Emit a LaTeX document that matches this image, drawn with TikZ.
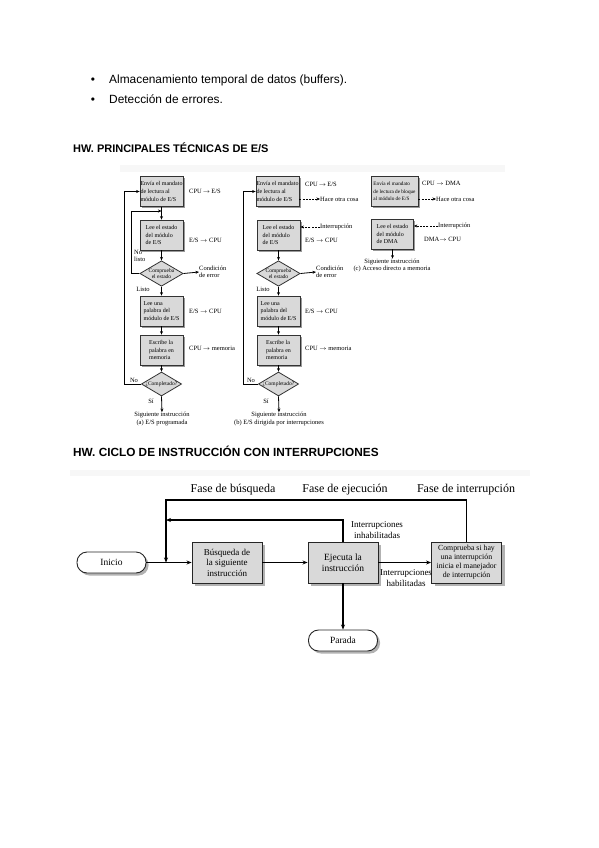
\documentclass[tikz,border=0pt]{standalone}
\usepackage{fontspec}
\setmainfont{Liberation Serif}
\newfontfamily\bodyfont{Liberation Sans}
\usetikzlibrary{arrows.meta,shapes.geometric,shadows}
\begin{document}
\begin{tikzpicture}[x=1pt,y=-1pt,
 every node/.style={inner sep=0pt},
 sbox/.style={draw=black!80, fill=black!15, line width=0.8pt, minimum width=43pt, minimum height=30pt, align=left, font=\fontsize{6}{7.8}\selectfont, drop shadow={shadow xshift=1.5pt, shadow yshift=-1.5pt, fill=black!40, opacity=1}},
 sdia/.style={diamond, draw=black!80, fill=black!15, line width=0.8pt, minimum width=40pt, minimum height=24pt, aspect=1.7, align=center, font=\fontsize{5.5}{6.5}\selectfont},
 slab/.style={font=\fontsize{6.5}{7.5}\selectfont, align=left},
 sline/.style={line width=0.8pt, -{Stealth[length=3.5pt,width=3pt]}},
 sdash/.style={sline, dash pattern=on 2pt off 1.2pt},
 bbox/.style={draw=black!85, fill=black!15, line width=0.9pt, minimum width=70pt, minimum height=41pt, align=center, font=\fontsize{9}{10.5}\selectfont, drop shadow={shadow xshift=3pt, shadow yshift=-3pt, fill=black!30, opacity=1}},
 bterm/.style={draw=black!85, fill=white, line width=0.9pt, rounded corners=10pt, minimum width=69pt, minimum height=21pt, font=\fontsize{9.5}{11}\selectfont, drop shadow={shadow xshift=2.5pt, shadow yshift=-2.5pt, fill=black!30, opacity=1}},
 blab/.style={font=\fontsize{9}{10.5}\selectfont, align=center},
 bline/.style={line width=1.2pt, -{Stealth[length=5pt,width=4pt]}},
 body/.style={font=\bodyfont\fontsize{11.9}{13}\selectfont, anchor=base west},
 head/.style={font=\bodyfont\bfseries\fontsize{11}{13}\selectfont, anchor=base west},
]
\path[fill=white, use as bounding box] (0,0) rectangle (599,848);

% text
\node[body, anchor=base] (bu1) at (93,84) {•};
\node[body] (t1) at (109,84) {Almacenamiento temporal de datos (buffers).};
\node[body, anchor=base] (bu2) at (93,103) {•};
\node[body] (t2) at (109,103) {Detección de errores.};
\node[head] (h1) at (73,152) {HW. PRINCIPALES TÉCNICAS DE E/S};
\node[head, font=\bodyfont\bfseries\fontsize{11.8}{13}\selectfont] (h2) at (73,456) {HW. CICLO DE INSTRUCCIÓN CON INTERRUPCIONES};

% faint scan bands
\fill[black!3] (120,165) rectangle (505,172);
\fill[black!3] (70,470) rectangle (530,476);

% ===== (a) =====
\node[sbox] (a1) at (161.5,191.5) {Envía el mandato\\de lectura al\\módulo de E/S};
\node[sbox] (a2) at (161.5,235) {Lee el estado\\del módulo\\de E/S};
\node[sdia] (ad1) at (161.5,273.5) {Comprueba\\el estado};
\node[sbox] (a3) at (161.5,311) {Lee una\\palabra del\\módulo de E/S};
\node[sbox] (a4) at (161.5,350) {Escribe la\\palabra en\\memoria};
\node[sdia] (ad2) at (161.5,384) {¿Completado?};
\node[slab, anchor=west] (al1) at (189,191) {CPU\,$\rightarrow$\,E/S};
\node[slab, anchor=west] (al2) at (189,240) {E/S $\rightarrow$ CPU};
\node[slab, anchor=west] (ace) at (199,272) {Condición\\de error};
\node[slab, anchor=west] (anl) at (134,256) {No\\listo};
\node[slab] (als) at (143,289) {Listo};
\node[slab, anchor=west] (al3) at (189,311) {E/S $\rightarrow$ CPU};
\node[slab, anchor=west] (al4) at (189,348) {CPU\,$\rightarrow$ memoria};
\node[slab] (ano) at (134,380) {No};
\node[slab] (asi) at (151,401) {Sí};
\node[slab, align=center] (asig) at (162,419) {Siguiente instrucción\\(a) E/S programada};
\coordinate (aj) at (161.5,211);
\coordinate (ax) at (131,211);
\coordinate (axx) at (124,300);
\draw[sline] (a1) -- (a2);
\draw[sline] (a2) -- (ad1);
\draw[sline] (ad1) -- (a3);
\draw[sline] (a3) -- (a4);
\draw[sline] (a4) -- (ad2);
\draw[sline] (ad2.south) -- (asig.north);
\draw[sline] (ad1.east) -- (ace.west);
\draw[sline] (ad1.west) -- (ad1.west -| ax) |- (aj);
\draw[sline] (ad2.west) -- (ad2.west -| axx) |- (a1.west);

% ===== (b) =====
\node[sbox] (b1) at (277.5,191.5) {Envía el mandato\\de lectura al\\módulo de E/S};
\node[sbox] (b2) at (278.5,235) {Lee el estado\\del módulo\\de E/S};
\node[sdia] (bd1) at (278.5,273.5) {Comprueba\\el estado};
\node[sbox] (b3) at (278.5,311) {Lee una\\palabra del\\módulo de E/S};
\node[sbox] (b4) at (278.5,350) {Escribe la\\palabra en\\memoria};
\node[sdia] (bd2) at (278.5,384) {¿Completado?};
\node[slab, anchor=west] (bl1) at (305,184) {CPU\,$\rightarrow$\,E/S};
\node[slab, anchor=west] (bhoc) at (320,199) {Hace otra cosa};
\node[slab, anchor=west] (bint) at (320,227) {Interrupción};
\node[slab, anchor=west] (bl2) at (305,240) {E/S $\rightarrow$ CPU};
\node[slab, anchor=west] (bce) at (316,272) {Condición\\de error};
\node[slab] (bls) at (263,289) {Listo};
\node[slab, anchor=west] (bl3) at (305,311) {E/S $\rightarrow$ CPU};
\node[slab, anchor=west] (bl4) at (305,348) {CPU $\rightarrow$ memoria};
\node[slab] (bno) at (251,380) {No};
\node[slab] (bsi) at (266,401) {Sí};
\node[slab, align=center] (bsig) at (279,419) {Siguiente instrucción\\(b) E/S dirigida por interrupciones};
\coordinate (bxx) at (243,300);
\draw[sline] (b2) -- (bd1);
\draw[sline] (bd1) -- (b3);
\draw[sline] (b3) -- (b4);
\draw[sline] (b4) -- (bd2);
\draw[sline] (bd2.south) -- (bsig.north);
\draw[sline] (bd1.east) -- (bce.west);
\draw[sline] (bd2.west) -- (bd2.west -| bxx) |- (b1.west);
\draw[sdash] (b1.east |- bhoc.west) -- (bhoc.west);
\draw[sdash] (bint.west) -- (b2.east |- bint.west);

% ===== (c) =====
\node[sbox, minimum width=47pt, font=\fontsize{5.2}{7.5}\selectfont] (c1) at (394.5,191.5) {Envía el mandato\\de lectura de bloque\\al módulo de E/S};
\node[sbox, minimum width=42pt] (c2) at (392.5,234) {Lee el estado\\del módulo\\de DMA};
\node[slab, anchor=west] (cl1) at (422,183) {CPU $\rightarrow$ DMA};
\node[slab, anchor=west] (choc) at (436,199) {Hace otra cosa};
\node[slab, anchor=west] (cint) at (438,226) {Interrupción};
\node[slab, anchor=west] (cl2) at (424,239) {DMA$\rightarrow$ CPU};
\node[slab, align=center] (csig) at (392,265.5) {Siguiente instrucción\\(c) Acceso directo a memoria};
\draw[sline] (c2.south) -- (c2.south |- csig.north);
\draw[sdash] (c1.east |- choc.west) -- (choc.west);
\draw[sdash] (cint.west) -- (c2.east |- cint.west);

% ===== bottom figure =====
\node[bterm] (ini) at (111.5,562.5) {Inicio};
\node[bbox] (bus) at (227,562.5) {Búsqueda de\\la siguiente\\instrucción};
\node[bbox, font=\fontsize{9.5}{11}\selectfont] (eje) at (343,562.5) {Ejecuta la\\instrucción};
\node[bbox, font=\fontsize{7.8}{9}\selectfont] (com) at (466.5,562.5) {Comprueba si hay\\una interrupción\\inicia el manejador\\de interrupción};
\node[bterm] (par) at (343,640.5) {Parada};
\node[blab, font=\fontsize{12}{14}\selectfont] (f1) at (233,490) {Fase de búsqueda};
\node[blab, font=\fontsize{12}{14}\selectfont] (f2) at (345,490) {Fase de ejecución};
\node[blab, font=\fontsize{12}{14}\selectfont] (f3) at (466,490) {Fase de interrupción};
\node[blab] (inh) at (377,530) {Interrupciones\\inhabilitadas};
\node[blab] (hab) at (406,578) {Interrupciones\\habilitadas};
\coordinate (j1) at (166,562.5);
\coordinate (t1) at (166,500);
\coordinate (t3) at (166,520);
\draw[bline] (ini) -- (bus);
\draw[bline] (bus) -- (eje);
\draw[bline] (eje) -- (com);
\draw[bline] (eje) -- (par);
\draw[bline] (com.north) |- (t1) -- (j1);
\draw[bline] (eje.north) |- (t3);
\end{tikzpicture}
\end{document}
